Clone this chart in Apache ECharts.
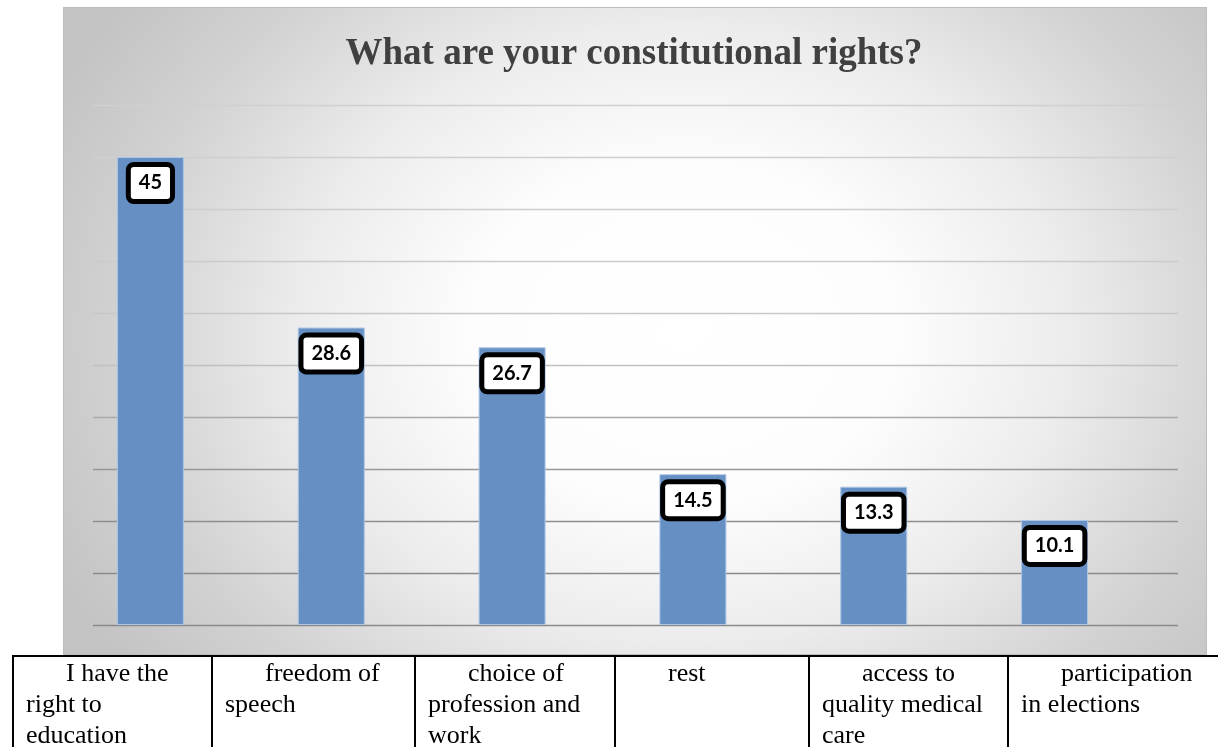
<!DOCTYPE html>
<html>
<head>
<meta charset="utf-8">
<script src="https://cdn.jsdelivr.net/npm/echarts@6/dist/echarts.min.js"></script>
<style>
  html, body { margin: 0; padding: 0; width: 1218px; height: 747px; overflow: hidden; background: #ffffff; }
  #panel {
    position: absolute; left: 63px; top: 7px; width: 1144px; height: 648px; box-sizing: border-box;
    border: 1px solid #bdbdbd;
    background: radial-gradient(ellipse 700px 560px at 620px 325px, #ffffff 0%, #fdfdfd 30%, #ececec 55%, #d2d2d2 80%, #c3c3c3 100%);
  }
  #chart { position: absolute; left: 0; top: 0; width: 1218px; height: 747px; }
  #tableTop { position: absolute; left: 12px; top: 655px; width: 1206px; height: 2px; background: #000; }
  .cell {
    position: absolute; top: 657px; height: 92px; box-sizing: border-box;
    border-left: 2px solid #000; padding: 0 12px 0 12px;
    font-family: "Liberation Serif", "Times New Roman", serif; font-size: 26px; line-height: 31px;
    text-indent: 40px; color: #000; text-align: left;
  }
</style>
</head>
<body>
<div id="panel"></div>
<div id="chart"></div>
<div id="tableTop"></div>
<script>
// ---- data ----
const categories = [
  'I have the right to education',
  'freedom of speech',
  'choice of profession and work',
  'rest',
  'access to quality medical care',
  'participation in elections'
];
const values = [45, 28.6, 26.7, 14.5, 13.3, 10.1];
const chartTitle = 'What are your constitutional rights?';

// ---- table of category labels below the chart ----
const colEdges = [12, 211, 414, 614, 808, 1007, 1230];
categories.forEach(function (c, i) {
  const d = document.createElement('div');
  d.className = 'cell';
  d.style.left = colEdges[i] + 'px';
  d.style.width = (colEdges[i + 1] - colEdges[i]) + 'px';
  d.textContent = c;
  document.body.appendChild(d);
});

// ---- chart ----
const chart = echarts.init(document.getElementById('chart'), null, { renderer: 'canvas' });
const lineColors = ['#8a8a8a', '#8a8a8a', '#8e8e8e', '#979797', '#a9a9a9', '#c0c0c0',
                    '#c8c8c8', '#cbcbcb', '#cdcdcd', '#cfcfcf', '#d0d0d0'];
chart.setOption({
  backgroundColor: 'transparent',
  animation: false,
  title: {
    text: chartTitle,
    left: 629, top: 31, textAlign: 'center',
    textStyle: { fontFamily: '"Liberation Serif", "Times New Roman", serif', fontWeight: 'bold', fontSize: 37, color: '#404040' }
  },
  grid: [
    { left: 93, right: 40, top: 105, bottom: 122 },
    { left: 60, right: 73, top: 105, bottom: 122 }
  ],
  xAxis: [
    { gridIndex: 0, type: 'category', data: categories, show: false },
    { gridIndex: 1, type: 'category', data: categories, show: false }
  ],
  yAxis: [
    { gridIndex: 0, type: 'value', min: 0, max: 50, interval: 5,
      axisLine: { show: false }, axisTick: { show: false }, axisLabel: { show: false },
      splitLine: { show: true, lineStyle: { color: lineColors, width: 1.3 } } },
    { gridIndex: 1, type: 'value', min: 0, max: 50, interval: 5, show: false,
      splitLine: { show: false } }
  ],
  series: [{
    type: 'bar',
    xAxisIndex: 1, yAxisIndex: 1,
    data: values,
    barWidth: 67,
    itemStyle: { color: '#6690c4', borderColor: '#aec6e4', borderWidth: 1 },
    label: {
      show: true, position: 'insideTop', distance: 10,
      fontFamily: 'Lato, "Open Sans", sans-serif', fontWeight: 'bold', fontSize: 20,
      lineHeight: 20, color: '#000',
      backgroundColor: '#ffffff', borderColor: '#000000', borderWidth: 5, borderRadius: 3,
      padding: [6, 8]
    }
  }]
});
</script>
</body>
</html>
